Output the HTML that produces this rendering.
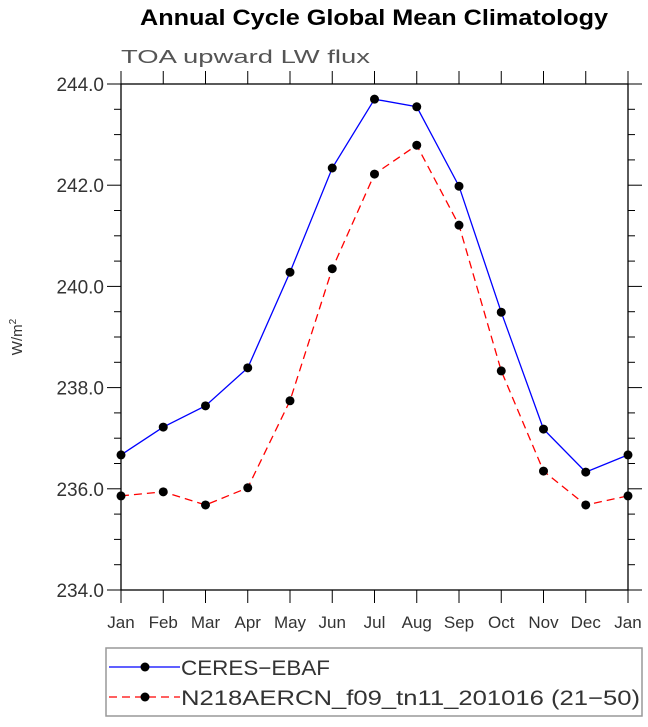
<!DOCTYPE html>
<html><head><meta charset="utf-8"><style>
body{margin:0;background:#fff;}
svg text{font-family:"Liberation Sans","DejaVu Sans",sans-serif;}
</style></head><body>
<svg width="648" height="722" xmlns="http://www.w3.org/2000/svg">
<text x="140" y="25" textLength="468" lengthAdjust="spacingAndGlyphs" font-size="22" font-weight="bold" fill="#000">Annual Cycle Global Mean Climatology</text>
<text x="121" y="63" textLength="249" lengthAdjust="spacingAndGlyphs" font-size="18" fill="#555">TOA upward LW flux</text>
<text transform="translate(22,337) rotate(-90)" text-anchor="middle" font-size="15" fill="#333">W/m<tspan dy="-6" font-size="10">2</tspan></text>
<g id="axes"></g>
<g id="series"></g>
<rect x="106" y="648" width="536" height="68" fill="none" stroke="#999" stroke-width="1.5"/>
<g>
<line x1="109" y1="667" x2="180" y2="667" stroke="#0000ff" stroke-width="1.3"/>
<circle cx="145" cy="667" r="4.5" fill="#000"/>
<text x="181" y="675" textLength="149" lengthAdjust="spacingAndGlyphs" font-size="21" fill="#333">CERES−EBAF</text>
</g>
<g>
<line x1="109" y1="697" x2="180" y2="697" stroke="#ff0000" stroke-width="1.3" stroke-dasharray="8,5"/>
<circle cx="145" cy="697" r="4.5" fill="#000"/>
<text x="181" y="705" textLength="459" lengthAdjust="spacingAndGlyphs" font-size="21" fill="#333">N218AERCN_f09_tn11_201016 (21−50)</text>
</g>
</svg>
<script>
const months = ["Jan","Feb","Mar","Apr","May","Jun","Jul","Aug","Sep","Oct","Nov","Dec","Jan"];
const ceresValues = [236.67,237.22,237.64,238.39,240.28,242.34,243.70,243.55,241.98,239.49,237.18,236.33,236.67];
const modelValues = [235.86,235.94,235.68,236.02,237.74,240.35,242.22,242.79,241.21,238.33,236.35,235.68,235.86];
const yTicks = [234,236,238,240,242,244];
const yTickLabels = ["234.0","236.0","238.0","240.0","242.0","244.0"];

const L=121,R=628,T=84,B=590,ymin=234,ymax=244;
const xs=i=>L+i*(R-L)/(months.length-1);
const ys=v=>B-(v-ymin)/(ymax-ymin)*(B-T);
const NS="http://www.w3.org/2000/svg";
function mk(tag,attrs,parent){const e=document.createElementNS(NS,tag);for(const k in attrs)e.setAttribute(k,attrs[k]);parent.appendChild(e);return e;}
const ax=document.getElementById('axes');
const frame=mk('rect',{x:L,y:T,width:R-L,height:B-T,fill:'none',stroke:'#000','stroke-width':1.3},ax);


for(let v=ymin;v<=ymax+1e-9;v+=0.5){
  const y=ys(v),major=Math.abs(v-Math.round(v/2)*2)<1e-6;
  const len=major?14:7;
  mk('line',{x1:L-len,y1:y,x2:L,y2:y,stroke:'#000','stroke-width':1},ax);
  mk('line',{x1:R,y1:y,x2:R+len,y2:y,stroke:'#000','stroke-width':1},ax);
}
yTicks.forEach((v,i)=>{
  const t=mk('text',{x:L-17,y:ys(v)+7,'text-anchor':'end','font-size':19,fill:'#333'},ax);
  t.textContent=yTickLabels[i];
  
  
});
months.forEach((m,i)=>{
  const x=xs(i);
  mk('line',{x1:x,y1:B,x2:x,y2:B+13,stroke:'#000','stroke-width':1},ax);
  mk('line',{x1:x,y1:T-13,x2:x,y2:T,stroke:'#000','stroke-width':1},ax);
  const t=mk('text',{x:x,y:B+38,'text-anchor':'middle','font-size':17,fill:'#333'},ax);
  t.textContent=m;
  
  
});
const sg=document.getElementById('series');
function drawSeries(vals,color,dash,name){
  const g=mk('g',{},sg);
  
  
  const pts=vals.map((v,i)=>xs(i)+','+ys(v)).join(' ');
  const a={points:pts,fill:'none',stroke:color,'stroke-width':1.3};
  if(dash)a['stroke-dasharray']=dash;
  mk('polyline',a,g);
  vals.forEach((v,i)=>{
    const c=mk('circle',{cx:xs(i),cy:ys(v),r:4.5,fill:'#000'},g);
    
    
  });
}
drawSeries(modelValues,'#ff0000','8,5','model-series');
drawSeries(ceresValues,'#0000ff',null,'ceres-series');
</script>
</body></html>
